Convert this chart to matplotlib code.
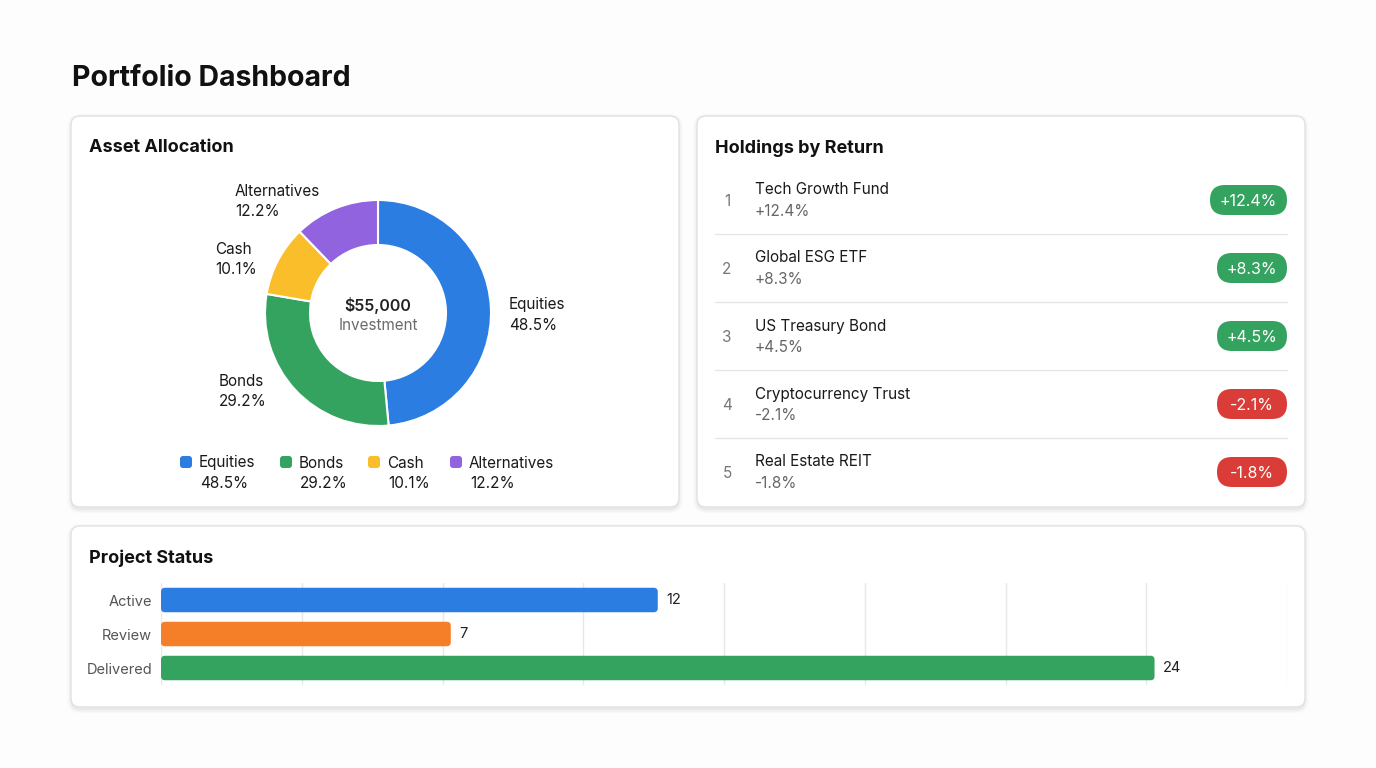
import matplotlib
matplotlib.use("Agg")
import matplotlib.pyplot as plt
from matplotlib.patches import FancyBboxPatch

plt.rcParams['font.family'] = ['Inter', 'DejaVu Sans']

# ---------------- data ----------------
alloc_labels = ["Equities", "Bonds", "Cash", "Alternatives"]
alloc_values = [48.5, 29.2, 10.1, 12.2]
alloc_colors = ["#2B7DE1", "#34A35F", "#F9BE2A", "#9163DE"]
total_investment = "$55,000"

holding_names = ["Tech Growth Fund", "Global ESG ETF", "US Treasury Bond",
                 "Cryptocurrency Trust", "Real Estate REIT"]
holding_returns = [12.4, 8.3, 4.5, -2.1, -1.8]

status_labels = ["Active", "Review", "Delivered"]
status_counts = [12, 7, 24]
status_colors = ["#2B7DE1", "#F57F29", "#34A35F"]

W, H = 1376, 768
fig = plt.figure(figsize=(W / 100, H / 100), dpi=100)
fig.patch.set_facecolor("#FDFDFD")

bg = fig.add_axes([0, 0, 1, 1])
bg.set_xlim(0, W)
bg.set_ylim(H, 0)
bg.axis("off")


def card(x0, y0, x1, y1):
    for i, a in enumerate([0.035, 0.028, 0.02]):
        d = 1 + i * 1.5
        bg.add_patch(FancyBboxPatch((x0 - d + 0.5, y0 - d + 2), x1 - x0 + 2 * d - 1, y1 - y0 + 2 * d,
                                    boxstyle="round,pad=0,rounding_size=%f" % (9 + d),
                                    fc="black", ec="none", alpha=a, zorder=1))
    bg.add_patch(FancyBboxPatch((x0, y0), x1 - x0, y1 - y0,
                                boxstyle="round,pad=0,rounding_size=9",
                                fc="white", ec="#E2E2E2", lw=1.0, zorder=2))


card(71, 116, 679, 507)
card(697, 116, 1305, 507)
card(71, 526, 1305, 707)

bg.text(72, 79, "Portfolio Dashboard", fontsize=20.5, fontweight="bold",
        color="#111111", va="center", ha="left", zorder=5)
bg.text(89, 148, "Asset Allocation", fontsize=13, fontweight="bold",
        color="#111111", va="center", ha="left", zorder=5)
bg.text(715, 148, "Holdings by Return", fontsize=13, fontweight="bold",
        color="#111111", va="center", ha="left", zorder=5)
bg.text(89, 558, "Project Status", fontsize=13, fontweight="bold",
        color="#111111", va="center", ha="left", zorder=5)

# ---------------- donut ----------------
cx, cy, R, r_in = 378, 313, 113, 68
pax = fig.add_axes([(cx - R) / W, (H - cy - R) / H, 2 * R / W, 2 * R / H])
pax.pie(alloc_values, colors=alloc_colors, startangle=90, counterclock=False,
        radius=1.0, wedgeprops=dict(width=(R - r_in) / R, edgecolor="white", linewidth=1.5))
pax.set_xlim(-1, 1)
pax.set_ylim(-1, 1)
pax.set_aspect("equal")
pax.axis("off")
pax.set_zorder(5)

bg.text(cx, 305, total_investment, fontsize=11.5, fontweight="semibold",
        color="#222222", ha="center", va="center", zorder=5)
bg.text(cx, 325, "Investment", fontsize=11, color="#6B6B6B",
        ha="center", va="center", zorder=5)

label_pos = {"Equities": (509, 305), "Bonds": (219, 381),
             "Cash": (215, 250), "Alternatives": (235, 191)}
for lab, val in zip(alloc_labels, alloc_values):
    x, y = label_pos[lab]
    bg.text(x, y, lab, fontsize=11, color="#1A1A1A", ha="left", va="center", zorder=5)
    bg.text(x, y + 20, f"{val:.1f}%", fontsize=11, color="#1A1A1A", ha="left", va="center", zorder=5)

legend_x = [186, 286, 374, 456]
for lx, lab, val, col in zip(legend_x, alloc_labels, alloc_values, alloc_colors):
    bg.add_patch(FancyBboxPatch((lx - 6, 456), 12, 12, boxstyle="round,pad=0,rounding_size=3",
                                fc=col, ec="none", zorder=5))
    bg.text(lx + 13, 463, lab, fontsize=11, color="#1A1A1A", ha="left", va="center", zorder=5)
    bg.text(lx + 14, 483, f"{val:.1f}%", fontsize=11, color="#1A1A1A", ha="left", va="center", zorder=5)

# ---------------- holdings list ----------------
row_y0, row_dy = 200, 68
for i, (name, ret) in enumerate(zip(holding_names, holding_returns)):
    yc = row_y0 + i * row_dy
    bg.text(727, yc + 1, str(i + 1), fontsize=11, color="#777777", ha="center", va="center", zorder=5)
    bg.text(755, yc - 10, name, fontsize=11, color="#1A1A1A", ha="left", va="center", zorder=5)
    s = f"{ret:+.1f}%"
    bg.text(755, yc + 12, s, fontsize=11, color="#666666", ha="left", va="center", zorder=5)
    col = "#34A35F" if ret >= 0 else "#DA3C38"
    bw = 77 if len(s) > 5 else 70
    bg.add_patch(FancyBboxPatch((1287 - bw, yc - 15), bw, 30,
                                boxstyle="round,pad=0,rounding_size=15",
                                fc=col, ec="none", zorder=5))
    bg.text(1287 - bw / 2, yc + 1, s, fontsize=11.5, color="white", ha="center", va="center", zorder=6)
    if i < len(holding_names) - 1:
        bg.plot([715, 1287], [yc + 34, yc + 34], color="#E6E6E6", lw=1.0, zorder=4)

# ---------------- bar chart ----------------
bx0, bx1, by0, by1 = 161, 1287, 583, 685
bax = fig.add_axes([bx0 / W, (H - by1) / H, (bx1 - bx0) / W, (by1 - by0) / H])
bax.set_zorder(5)
bax.patch.set_alpha(0)
ypos = list(range(len(status_labels)))
bars = bax.barh(ypos, status_counts, height=0.72, color=status_colors, zorder=3)
xmax = 27.2
bax.set_xlim(0, xmax)
bax.set_ylim(len(status_labels) - 0.5, -0.5)
bax.set_xticks([xmax * k / 8 for k in range(9)])
bax.set_xticklabels([])
bax.tick_params(axis="x", length=0)
bax.grid(axis="x", color="#E8E8E8", lw=1.0, zorder=0)
bax.set_yticks(ypos)
bax.set_yticklabels(status_labels, fontsize=10.5, color="#555555")
bax.tick_params(axis="y", length=0, pad=6.5)
for sp in bax.spines.values():
    sp.set_visible(False)
# rounded bar corners built from the bar geometry
px_per_x = (bx1 - bx0) / xmax
px_per_y = (by1 - by0) / len(status_labels)
for b in bars:
    x, y, w, h = b.get_x(), b.get_y(), b.get_width(), b.get_height()
    b.set_visible(False)
    bax.add_patch(FancyBboxPatch((x, y), w, h,
                                 boxstyle="round,pad=0,rounding_size=%f" % (4 / px_per_x),
                                 mutation_aspect=px_per_x / px_per_y,
                                 fc=b.get_facecolor(), ec="none", zorder=3))
for yv, v in zip(ypos, status_counts):
    bax.text(v + 0.2, yv, str(v), fontsize=10.5, color="#222222", va="center", ha="left")

fig.savefig("out.png", dpi=100, facecolor=fig.get_facecolor())
